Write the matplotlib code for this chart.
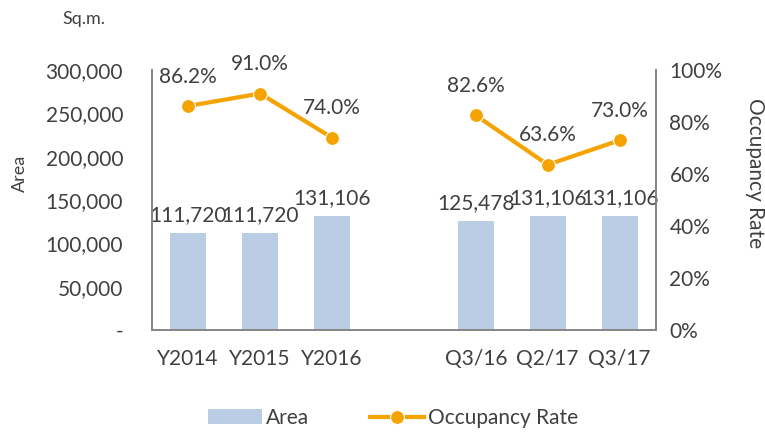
import numpy as np
import matplotlib.pyplot as plt

categories = ['Y2014', 'Y2015', 'Y2016', '', 'Q3/16', 'Q2/17', 'Q3/17']
area = [111720, 111720, 131106, np.nan, 125478, 131106, 131106]
occupancy = [86.2, 91.0, 74.0, np.nan, 82.6, 63.6, 73.0]

plt.rcParams['font.family'] = ['Lato', 'DejaVu Sans']
txt = '#404040'
spine_c = '#868686'
bar_c = '#B9CDE5'
line_c = '#F5A300'

fig = plt.figure(figsize=(7.65, 4.33), dpi=100)
ax = fig.add_axes([0.199, 0.238, 0.658, 0.600])
ax2 = ax.twinx()

x = np.arange(len(categories))
bars = ax.bar(x, area, width=0.5, color=bar_c, label='Area', zorder=2)
ax.set_xlim(-0.5, len(categories) - 0.5)
ax.set_ylim(0, 300000)
ax.set_yticks(np.arange(0, 300001, 50000))
ax.set_yticklabels(['-' if v == 0 else f'{v:,}' for v in range(0, 300001, 50000)])
ax.set_xticks(x)
ax.set_xticklabels(categories)

for xi, v in zip(x, area):
    if not np.isnan(v):
        ax.annotate(f'{int(v):,}', (xi, v), xytext=(0, 6), textcoords='offset points',
                    ha='center', va='bottom', fontsize=15, color=txt)

ax2.plot(x, occupancy, color=line_c, lw=3, marker='o', ms=10,
         mec='white', mew=0.8, label='Occupancy Rate', zorder=3)
ax2.set_ylim(0, 100)
ax2.set_yticks(np.arange(0, 101, 20))
ax2.set_yticklabels([f'{v}%' for v in range(0, 101, 20)])
for xi, v in zip(x, occupancy):
    if not np.isnan(v):
        ax2.annotate(f'{v:.1f}%', (xi, v), xytext=(0, 14), textcoords='offset points',
                     ha='center', va='bottom', fontsize=15, color=txt)

for a in (ax, ax2):
    a.spines['top'].set_visible(False)
    for s in ('left', 'right', 'bottom'):
        a.spines[s].set_color(spine_c)
        a.spines[s].set_linewidth(1.3)
    a.tick_params(length=0, labelsize=15, colors=txt)
ax.tick_params(axis='y', pad=21)
ax.tick_params(axis='x', pad=14)
ax2.tick_params(axis='y', pad=10)

fig.text(0.081, 0.955, 'Sq.m.', fontsize=13, color=txt, ha='left', va='center')
fig.text(0.026, 0.60, 'Area', fontsize=13, color=txt, rotation=90, ha='center', va='center')
fig.text(0.987, 0.60, 'Occupancy Rate', fontsize=15, color=txt, rotation=-90,
         ha='center', va='center')

h1, l1 = ax.get_legend_handles_labels()
h2, l2 = ax2.get_legend_handles_labels()
fig.legend(h1 + h2, l1 + l2, loc='center', bbox_to_anchor=(0.514, 0.035), ncol=2,
           frameon=False, fontsize=15, handlelength=2.6, columnspacing=2.9,
           handletextpad=0.2, labelcolor=txt)

fig.savefig('out.png', dpi=100)
